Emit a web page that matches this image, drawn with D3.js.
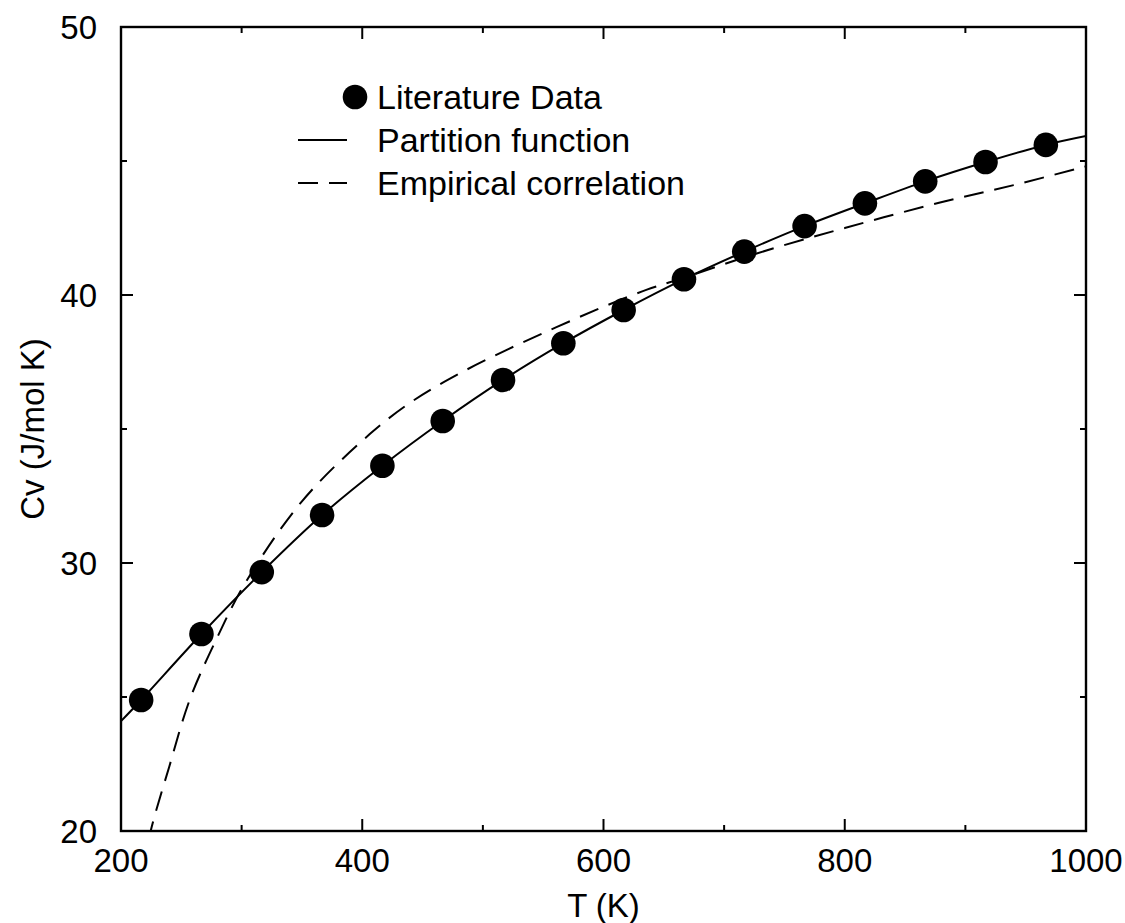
<!DOCTYPE html>
<html lang="en">
<head>
  <meta charset="UTF-8" />
  <title>Cv vs T</title>
  <script src="https://d3js.org/d3.v7.min.js"></script>
  <style>
    body { margin: 0; background: #fff; }
    text { font-family: "Liberation Sans", Arial, Helvetica, sans-serif; fill: #000; }
  </style>
</head>
<body>
  <svg width="1125" height="923"></svg>

  <script>
  // literature data (dots)
  const litT  = [216.7, 266.7, 316.7, 366.7, 416.7, 466.7, 516.7, 566.7, 616.7, 666.7, 716.7, 766.7, 816.7, 866.7, 916.7, 966.7];
  const litCv = [24.89, 27.35, 29.66, 31.79, 33.63, 35.30, 36.83, 38.20, 39.44, 40.59, 41.62, 42.57, 43.42, 44.24, 44.96, 45.60];

  // partition function curve (solid)
  const partT  = [200, 216.7, 266.7, 316.7, 366.7, 416.7, 466.7, 516.7, 566.7, 616.7, 666.7, 716.7, 766.7, 816.7, 866.7, 916.7, 966.7, 1000];
  const partCv = [24.1, 24.89, 27.35, 29.66, 31.79, 33.63, 35.30, 36.83, 38.20, 39.44, 40.59, 41.62, 42.57, 43.42, 44.24, 44.96, 45.60, 45.93];

  // empirical correlation (dashed)
  const empT  = [218, 224.6, 240, 257, 279, 303, 350, 406, 442, 481, 522, 561, 600, 636, 667, 727, 800, 879, 940, 1000];
  const empCv = [18.5, 20, 22.4, 24.9, 27.15, 29.25, 32.3, 34.8, 36.05, 37.08, 38.0, 38.8, 39.56, 40.2, 40.65, 41.55, 42.5, 43.45, 44.1, 44.8];

  const xTicks = [200, 400, 600, 800, 1000];
  const xMinor = [300, 500, 700, 900];
  const yTicks = [20, 30, 40, 50];
  const yMinor = [25, 35, 45];

  const legendItems = ["Literature Data", "Partition function", "Empirical correlation"];

  const svg = d3.select("svg");
  const m = { left: 121, right: 1086, top: 27, bottom: 831 };

  const x = d3.scaleLinear().domain([200, 1000]).range([m.left, m.right]);
  const y = d3.scaleLinear().domain([20, 50]).range([m.bottom, m.top]);

  svg.append("defs").append("clipPath").attr("id", "plot")
    .append("rect")
    .attr("x", m.left).attr("y", m.top)
    .attr("width", m.right - m.left).attr("height", m.bottom - m.top);

  // ticks, inward on all four sides
  const tg = svg.append("g").attr("stroke", "#000").attr("stroke-width", 2);
  const xt = xTicks.map(v => [v, 12]).concat(xMinor.map(v => [v, 6]));
  const yt = yTicks.map(v => [v, 12]).concat(yMinor.map(v => [v, 6]));
  xt.forEach(([v, len]) => {
    tg.append("line").attr("x1", x(v)).attr("x2", x(v)).attr("y1", m.bottom).attr("y2", m.bottom - len);
    tg.append("line").attr("x1", x(v)).attr("x2", x(v)).attr("y1", m.top).attr("y2", m.top + len);
  });
  yt.forEach(([v, len]) => {
    tg.append("line").attr("y1", y(v)).attr("y2", y(v)).attr("x1", m.left).attr("x2", m.left + len);
    tg.append("line").attr("y1", y(v)).attr("y2", y(v)).attr("x1", m.right).attr("x2", m.right - len);
  });

  // tick labels
  svg.append("g")
    .style("font-size", "33px")
    .selectAll("text")
    .data(xTicks)
    .enter().append("text")
    .attr("x", d => x(d))
    .attr("y", 872)
    .attr("text-anchor", "middle")
    .text(d => d);

  svg.append("g")
    .style("font-size", "33px")
    .selectAll("text")
    .data(yTicks)
    .enter().append("text")
    .attr("x", 97)
    .attr("y", d => y(d))
    .attr("dy", "0.36em")
    .attr("text-anchor", "end")
    .text(d => d);

  // axis titles
  svg.append("text")
    .style("font-size", "33px")
    .attr("x", (m.left + m.right) / 2)
    .attr("y", 917)
    .attr("text-anchor", "middle")
    .text("T (K)");

  svg.append("text")
    .style("font-size", "33px")
    .attr("transform", `translate(44,${(m.top + m.bottom) / 2}) rotate(-90)`)
    .attr("text-anchor", "middle")
    .text("Cv (J/mol K)");

  // curves
  const plot = svg.append("g").attr("clip-path", "url(#plot)");

  const line = d3.line()
    .x(d => x(d[0]))
    .y(d => y(d[1]))
    .curve(d3.curveCatmullRom.alpha(0.5));

  plot.append("path")
    .datum(partT.map((t, i) => [t, partCv[i]]))
    .attr("fill", "none")
    .attr("stroke", "#000")
    .attr("stroke-width", 2)
    .attr("d", line);

  plot.append("path")
    .datum(empT.map((t, i) => [t, empCv[i]]))
    .attr("fill", "none")
    .attr("stroke", "#000")
    .attr("stroke-width", 2)
    .attr("stroke-dasharray", "20,11")
    .attr("d", line);

  plot.append("g")
    .selectAll("circle")
    .data(litT.map((t, i) => [t, litCv[i]]))
    .enter().append("circle")
    .attr("cx", d => x(d[0]))
    .attr("cy", d => y(d[1]))
    .attr("r", 12.3)
    .attr("fill", "#000");

  // frame
  svg.append("rect")
    .attr("x", m.left).attr("y", m.top)
    .attr("width", m.right - m.left).attr("height", m.bottom - m.top)
    .attr("fill", "none")
    .attr("stroke", "#000")
    .attr("stroke-width", 2.4);

  // legend
  const lg = svg.append("g");
  const rowY = [97, 140, 183];
  lg.append("circle").attr("cx", 355).attr("cy", rowY[0]).attr("r", 12.3).attr("fill", "#000");
  lg.append("line").attr("x1", 298).attr("x2", 347).attr("y1", rowY[1]).attr("y2", rowY[1])
    .attr("stroke", "#000").attr("stroke-width", 2);
  lg.append("line").attr("x1", 298).attr("x2", 347).attr("y1", rowY[2]).attr("y2", rowY[2])
    .attr("stroke", "#000").attr("stroke-width", 2).attr("stroke-dasharray", "20,11");
  lg.selectAll("text")
    .data(legendItems)
    .enter().append("text")
    .style("font-size", "34px")
    .attr("x", 377)
    .attr("y", (d, i) => rowY[i])
    .attr("dy", "0.36em")
    .text(d => d);
  </script>
</body>
</html>
